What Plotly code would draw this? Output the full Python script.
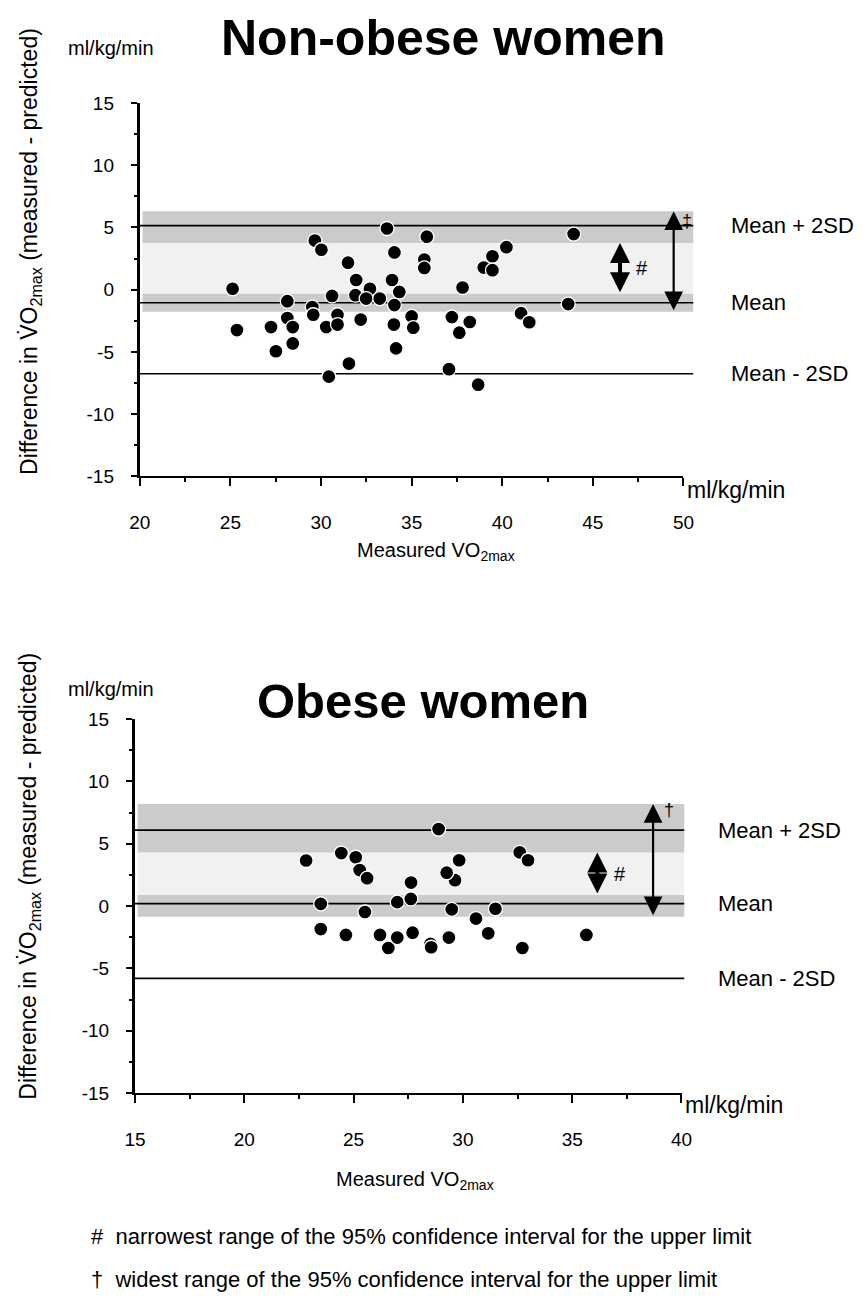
import plotly.graph_objects as go

# The page body has an 8 px margin, so the figure is placed at (8, 8).
OFF = 8
W, H = 855, 1300
FONT = "Liberation Sans, Arial, Helvetica, sans-serif"

def px(x):
    return (x - OFF) / W

def py(y):
    return 1 - (y - OFF) / H

# ---------------- data ----------------
# Non-obese women
top_x = [25.12, 25.36, 27.24, 27.51, 28.14, 28.14, 28.44, 28.44, 29.66, 30.02,
         29.52, 29.57, 30.29, 30.43, 30.61, 30.91, 30.91, 31.49, 31.54, 31.94,
         31.90, 32.19, 32.70, 32.49, 33.24, 33.64, 34.05, 33.92, 34.32, 34.05,
         34.02, 34.14, 35.00, 35.09, 35.84, 35.70, 35.70, 37.06, 37.22, 37.81,
         38.21, 37.63, 38.67, 39.46, 38.98, 39.46, 40.23, 41.04, 41.49, 43.64,
         43.94]
top_y = [0.08, -3.24, -3.00, -4.94, -0.92, -2.27, -3.00, -4.31, 3.95, 3.21,
         -1.39, -2.01, -3.00, -6.98, -0.50, -2.01, -2.80, 2.17, -5.93, 0.78,
         -0.44, -2.40, 0.08, -0.71, -0.71, 4.92, 3.00, 0.78, -0.18, -1.23,
         -2.80, -4.71, -2.14, -3.05, 4.26, 2.43, 1.75, -6.38, -2.20, 0.18,
         -2.59, -3.45, -7.63, 2.69, 1.78, 1.57, 3.42, -1.88, -2.61, -1.15,
         4.47]
top_mean, top_upper, top_lower = -1.05, 5.15, -6.75
top_ci_upper = [3.76, 6.30]
top_ci_mean = [-1.77, -0.32]

# Obese women
bot_x = [22.83, 24.44, 25.10, 25.28, 25.62, 23.50, 23.50, 24.65, 25.52, 26.21,
         26.59, 27.00, 27.70, 27.00, 27.62, 27.63, 28.89, 28.52, 28.55, 29.36,
         29.49, 29.64, 29.26, 29.83, 30.60, 31.16, 31.49, 32.60, 32.98, 32.72,
         35.65]
bot_y = [3.66, 4.26, 3.92, 2.89, 2.24, 0.18, -1.84, -2.31, -0.47, -2.31,
         -3.36, -2.52, -2.13, 0.32, 0.58, 1.89, 6.18, -3.03, -3.30, -2.52,
         -0.26, 2.08, 2.68, 3.68, -1.00, -2.18, -0.21, 4.32, 3.68, -3.36,
         -2.31]
bot_mean, bot_upper, bot_lower = 0.2, 6.1, -5.8
bot_ci_upper = [4.3, 8.2]
bot_ci_mean = [-0.85, 0.9]

top_xticks = [20, 25, 30, 35, 40, 45, 50]
bot_xticks = [15, 20, 25, 30, 35, 40]
yticks = [-15, -10, -5, 0, 5, 10, 15]
ytick_text = ["-15", "-10", "-5", "0", "5", "10", "15"]

line_labels = ["Mean + 2SD", "Mean", "Mean - 2SD"]
footnotes = ["#  narrowest range of the 95% confidence interval for the upper limit",
             "\u2020  widest range of the 95% confidence interval for the upper limit"]

# ---------------- figure ----------------
fig = go.Figure()

marker = dict(size=14, color="black", line=dict(color="white", width=1.3))
fig.add_trace(go.Scatter(x=top_x, y=top_y, mode="markers", xaxis="x", yaxis="y",
                         marker=marker, showlegend=False, hoverinfo="skip"))
fig.add_trace(go.Scatter(x=bot_x, y=bot_y, mode="markers", xaxis="x2", yaxis="y2",
                         marker=marker, showlegend=False, hoverinfo="skip"))

axis_common = dict(showgrid=False, zeroline=False, showline=True, linecolor="black",
                   ticks="outside", tickcolor="black",
                   tickfont=dict(family=FONT, size=19, color="black"))
xaxis_style = dict(linewidth=2, ticklen=8, tickwidth=1.5, ticklabelstandoff=20,
                   minor=dict(dtick=2.5, ticklen=4, ticks="outside", tickcolor="black"),
                   **axis_common)
yaxis_style = dict(range=[-15, 15], tickvals=yticks, ticktext=ytick_text,
                   linewidth=3, ticklen=6, tickwidth=1.5, ticklabelstandoff=13,
                   minor=dict(dtick=2.5, ticklen=3, ticks="outside", tickcolor="black"),
                   **axis_common)

fig.update_layout(
    width=W, height=H, margin=dict(l=0, r=0, t=0, b=0),
    paper_bgcolor="white", plot_bgcolor="rgba(0,0,0,0)",
    xaxis=dict(domain=[px(132), px(690)], range=[20, 50], tickvals=top_xticks,
               anchor="y", **xaxis_style),
    yaxis=dict(domain=[py(474), py(94.4)], anchor="x", **yaxis_style),
    xaxis2=dict(domain=[px(127), px(688)], range=[15, 40], tickvals=bot_xticks,
                anchor="y2", **xaxis_style),
    yaxis2=dict(domain=[py(1100.7), py(720.7)], anchor="x2", **yaxis_style),
)

shapes = []
annotations = []

panels = [
    dict(xr="x", yr="y", mean=top_mean, up=top_upper, lo=top_lower,
         ciu=top_ci_upper, cim=top_ci_mean, big_x=49.46, small_x=46.5,
         hash_x=47.7, dag_x=49.8, dag_y=5.5, dag="\u2021", lab_x=737, xend=1.018),
    dict(xr="x2", yr="y2", mean=bot_mean, up=bot_upper, lo=bot_lower,
         ciu=bot_ci_upper, cim=bot_ci_mean, big_x=38.7, small_x=36.15,
         hash_x=37.2, dag_x=39.1, dag_y=7.7, dag="\u2020", lab_x=723, xend=1.005),
]

for p in panels:
    xd = p["xr"] + " domain"
    # light speckled region between the two confidence bands
    shapes.append(dict(type="rect", xref=xd, yref=p["yr"], x0=0.005, x1=p["xend"],
                       y0=p["cim"][1], y1=p["ciu"][0], fillcolor="#f1f1f1",
                       line=dict(width=0), layer="below"))
    for band in (p["ciu"], p["cim"]):
        shapes.append(dict(type="rect", xref=xd, yref=p["yr"], x0=0.005, x1=p["xend"],
                           y0=band[0], y1=band[1], fillcolor="#cbcbcb",
                           line=dict(width=0), layer="below"))
    for val in (p["up"], p["mean"], p["lo"]):
        shapes.append(dict(type="line", xref=xd, yref=p["yr"], x0=0, x1=p["xend"],
                           y0=val, y1=val, line=dict(color="black", width=1.6),
                           layer="below"))
    # big double arrow
    annotations.append(dict(xref=p["xr"], yref=p["yr"], axref=p["xr"], ayref=p["yr"],
                            x=p["big_x"], y=p["ciu"][1], ax=p["big_x"], ay=p["cim"][0],
                            text="", showarrow=True, arrowside="end+start",
                            arrowhead=2, arrowsize=1.7, arrowwidth=2.2,
                            arrowcolor="black", standoff=0, startstandoff=0))
    # small double arrow
    annotations.append(dict(xref=p["xr"], yref=p["yr"], axref=p["xr"], ayref=p["yr"],
                            x=p["small_x"], y=p["ciu"][0], ax=p["small_x"], ay=p["cim"][1],
                            text="", showarrow=True, arrowside="end+start",
                            arrowhead=2, arrowsize=1.0, arrowwidth=4,
                            arrowcolor="black", standoff=0, startstandoff=0))
    annotations.append(dict(xref=p["xr"], yref=p["yr"], x=p["hash_x"],
                            y=(p["ciu"][0] + p["cim"][1]) / 2, text="#",
                            showarrow=False, xanchor="center",
                            font=dict(family=FONT, size=20, color="black")))
    annotations.append(dict(xref=p["xr"], yref=p["yr"], x=p["dag_x"], y=p["dag_y"],
                            text=p["dag"], showarrow=False, xanchor="left",
                            font=dict(family=FONT, size=18, color="black")))
    for lab, val in zip(line_labels, (p["up"], p["mean"], p["lo"])):
        annotations.append(dict(xref="paper", yref=p["yr"], x=px(p["lab_x"]), y=val,
                                text=lab, showarrow=False, xanchor="left",
                                font=dict(family=FONT, size=22, color="black")))

def txt(x, y, s, size=19, anchor="center", angle=0):
    annotations.append(dict(xref="paper", yref="paper", x=px(x), y=py(y), text=s,
                            showarrow=False, xanchor=anchor, yanchor="middle",
                            textangle=angle,
                            font=dict(family=FONT, size=size, color="black")))

# titles
txt(443, 28, "<b>Non-obese women</b>", size=50)
txt(423, 702, "<b>Obese women</b>", size=49)
# units
txt(56, 38, "ml/kg/min", size=20, anchor="left")
txt(56, 690, "ml/kg/min", size=20, anchor="left")
txt(692, 488, "ml/kg/min", size=23, anchor="left")
txt(690, 1113, "ml/kg/min", size=23, anchor="left")
# axis titles
txt(436, 550, "Measured VO<sub>2max</sub>", size=20)
txt(414, 1190, "Measured VO<sub>2max</sub>", size=20)
ytitle = "Difference in V\u0307O<sub>2max</sub> (measured - predicted)"
txt(19, 245, ytitle, size=23, angle=-90)
txt(19, 880, ytitle, size=23, angle=-90)
# footnotes
txt(80, 1246, footnotes[0], size=22, anchor="left")
txt(80, 1290, footnotes[1], size=22, anchor="left")

fig.update_layout(shapes=shapes, annotations=annotations)
fig.write_html("out.html")
